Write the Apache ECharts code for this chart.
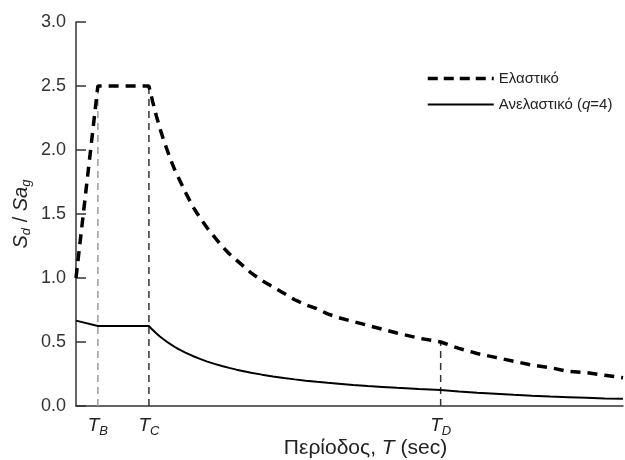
<!DOCTYPE html>
<html>
<head>
<meta charset="utf-8">
<script src="https://cdn.jsdelivr.net/npm/echarts@6/dist/echarts.min.js"></script>
<style>
	html, body { margin: 0; padding: 0; background: #fff; }
	#chart { width: 625px; height: 460px; }
</style>
</head>
<body>
<div id="chart"></div>
<script>
// Periods (sec)
const periods = [0, 0.15, 0.5, 0.525, 0.55, 0.575, 0.6, 0.625, 0.65, 0.675, 0.7, 0.75, 0.8, 0.85, 0.9, 0.95, 1.0, 1.05, 1.1, 1.15, 1.2, 1.275, 1.35, 1.425, 1.5, 1.575, 1.65, 1.725, 1.8, 1.9, 2.0, 2.1, 2.2, 2.35, 2.5, 2.625, 2.75, 2.875, 3.0, 3.125, 3.25, 3.375, 3.5, 3.625, 3.75];
const elastic = [1.0, 2.5, 2.5, 2.38, 2.27, 2.17, 2.08, 2.0, 1.92, 1.85, 1.79, 1.67, 1.56, 1.47, 1.39, 1.32, 1.25, 1.19, 1.14, 1.09, 1.04, 0.98, 0.93, 0.88, 0.83, 0.79, 0.76, 0.72, 0.69, 0.66, 0.63, 0.6, 0.57, 0.53, 0.5, 0.45, 0.41, 0.38, 0.35, 0.32, 0.3, 0.27, 0.26, 0.24, 0.22];
const inelastic = [0.667, 0.625, 0.625, 0.595, 0.568, 0.543, 0.521, 0.5, 0.481, 0.463, 0.446, 0.417, 0.391, 0.368, 0.347, 0.329, 0.313, 0.298, 0.284, 0.272, 0.26, 0.245, 0.231, 0.219, 0.208, 0.198, 0.189, 0.181, 0.174, 0.164, 0.156, 0.149, 0.142, 0.133, 0.125, 0.113, 0.103, 0.095, 0.087, 0.08, 0.074, 0.069, 0.064, 0.059, 0.056];

// Corner periods and their marker heights
const cornerNames = ["B", "C", "D"];
const cornerPeriods = [0.15, 0.5, 2.5];
const cornerTops = [2.5, 2.5, 0.5];
const cornerColors = ["#9a9a9a", "#333333", "#333333"];

const yTicks = [0, 0.5, 1.0, 1.5, 2.0, 2.5, 3.0];

const fontFamily = "Liberation Sans, Arial, sans-serif";

var chart = echarts.init(document.getElementById("chart"));

function pairs(xs, ys) {
	return xs.map((x, i) => [x, ys[i]]);
}

var series = [
	{
		name: "Ελαστικό",
		type: "line",
		data: pairs(periods, elastic),
		symbol: "none",
		lineStyle: { color: "#000", width: 3.5, type: [10, 7] },
		itemStyle: { color: "#000" },
		z: 5,
	},
	{
		name: "Ανελαστικό (q=4)",
		type: "line",
		data: pairs(periods, inelastic),
		symbol: "none",
		lineStyle: { color: "#000", width: 2 },
		itemStyle: { color: "#000" },
		z: 5,
	},
];

// dashed verticals at T_B, T_C, T_D
cornerPeriods.forEach((t, i) => {
	series.push({
		type: "line",
		data: [[t, 0], [t, cornerTops[i]]],
		symbol: "none",
		silent: true,
		lineStyle: { color: cornerColors[i], width: 1.5, type: [7, 5] },
		z: 2,
	});
});

var option = {
	animation: false,
	textStyle: { fontFamily: fontFamily },
	grid: { left: 76, right: 2, top: 22, bottom: 54, outerBoundsMode: "none", containLabel: false },
	legend: {
		data: [
			{ name: "Ελαστικό", lineStyle: { width: 3.5, type: [10, 6] } },
			{ name: "Ανελαστικό (q=4)", lineStyle: { width: 2 } },
		],
		orient: "vertical",
		left: 421,
		top: 66,
		itemWidth: 66,
		itemHeight: 12,
		itemGap: 11,
		itemStyle: { opacity: 0, borderWidth: 0 },
		textStyle: {
			fontSize: 15,
			color: "#222",
			rich: {
				n: { fontSize: 15, color: "#222" },
				i: { fontStyle: "italic", fontSize: 15, color: "#222" },
			},
		},
		formatter: function (name) {
			return name.replace("(q=4)", "({i|q}=4)");
		},
	},
	xAxis: {
		type: "value",
		min: 0,
		max: 3.75,
		name: "{n|Περίοδος, }{i|T}{n| (sec)}",
		nameLocation: "middle",
		nameGap: 32,
		nameMoveOverlap: false,
		nameTextStyle: {
			padding: [0, 0, 0, 32],
			rich: {
				n: { fontSize: 21, color: "#222", fontFamily: fontFamily },
				i: { fontSize: 21, color: "#222", fontStyle: "italic", fontFamily: fontFamily },
			},
		},
		axisLine: { lineStyle: { color: "#333", width: 1.5 } },
		axisTick: { show: false },
		splitLine: { show: false },
		axisLabel: {
			customValues: cornerPeriods,
			margin: 8,
			formatter: function (v) {
				var i = cornerPeriods.indexOf(v);
				return "{t|T}{s|" + cornerNames[i] + "}";
			},
			rich: {
				t: { fontSize: 19, fontStyle: "italic", color: "#222", fontFamily: fontFamily },
				s: { fontSize: 13, fontStyle: "italic", color: "#222", fontFamily: fontFamily, padding: [11, 0, 0, 0] },
			},
		},
	},
	yAxis: {
		type: "value",
		min: 0,
		max: 3,
		interval: 0.5,
		name: "{i|S}{s|d}{n| / }{i|Sa}{s|g}",
		nameLocation: "middle",
		nameRotate: 90,
		nameGap: 43,
		nameMoveOverlap: false,
		nameTextStyle: {
			rich: {
				n: { fontSize: 20, color: "#222", fontFamily: fontFamily },
				i: { fontSize: 20, color: "#222", fontStyle: "italic", fontFamily: fontFamily },
				s: { fontSize: 13, color: "#222", fontStyle: "italic", fontFamily: fontFamily, padding: [11, 0, 0, 0] },
			},
		},
		axisLine: { show: true, lineStyle: { color: "#333", width: 1.5 } },
		axisTick: { show: true, inside: true, length: 10, lineStyle: { color: "#333", width: 1.5 } },
		splitLine: { show: false },
		axisLabel: {
			fontSize: 18,
			color: "#333",
			margin: 10,
			formatter: function (v) {
				return yTicks.indexOf(v) >= 0 ? v.toFixed(1) : "";
			},
		},
	},
	series: series,
};

chart.setOption(option);
</script>
</body>
</html>
